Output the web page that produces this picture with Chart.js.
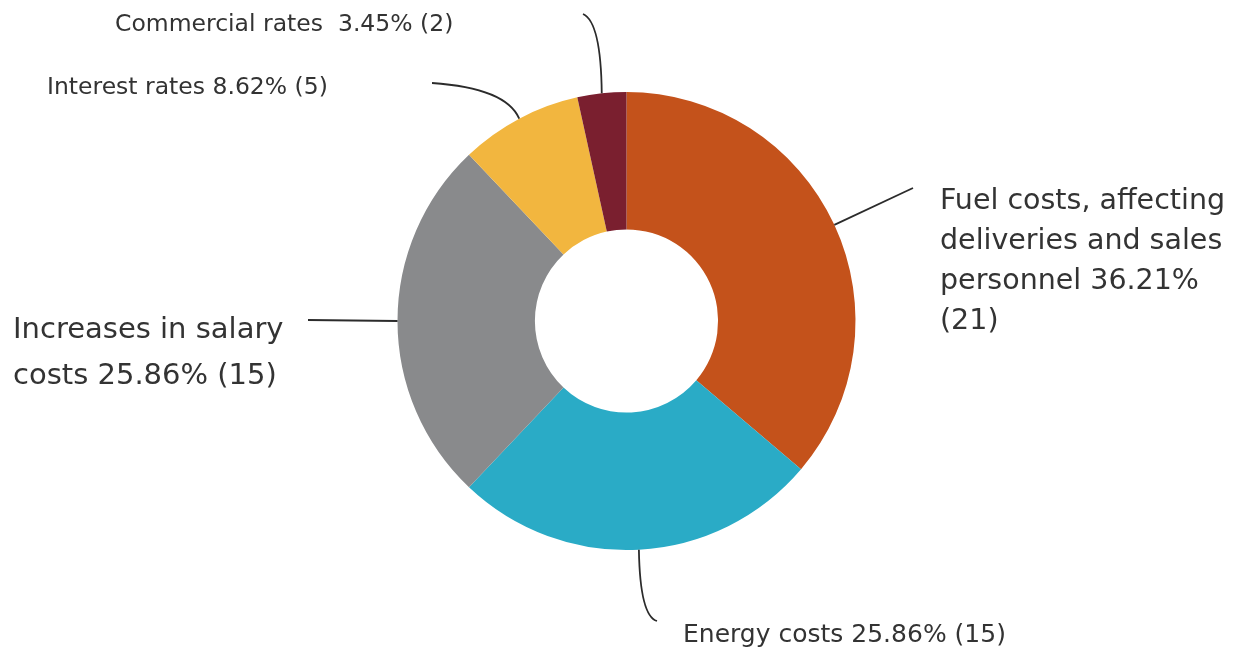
<!DOCTYPE html>
<html>
<head>
<meta charset="utf-8">
<script src="https://cdn.jsdelivr.net/npm/chart.js@4"></script>
<style>
  html, body { margin: 0; padding: 0; background: #fff; }
  #wrap { width: 1243px; height: 652px; }
</style>
</head>
<body>
<div id="wrap"><canvas id="chart1" width="1243" height="652"></canvas></div>
<script>
// slices, clockwise from 12 o'clock
const categories = [
    'Fuel costs, affecting deliveries and sales personnel',
    'Energy costs',
    'Increases in salary costs',
    'Interest rates',
    'Commercial rates'
];
const counts = [21, 15, 15, 5, 2];
const colors = ['#C4521B', '#2AABC6', '#898A8C', '#F2B63F', '#7A1F2F'];

// label text, one entry per line
const labelLines = [
    ['Fuel costs, affecting', 'deliveries and sales', 'personnel 36.21%', '(21)'],
    ['Energy costs 25.86% (15)'],
    ['Increases in salary', 'costs 25.86% (15)'],
    ['Interest rates 8.62% (5)'],
    ['Commercial rates  3.45% (2)']
];

// where each label sits and how its leader line runs
const labelLayout = [
    { x: 940, y: 202, lh: 40, size: 28.5, end: [913, 188] },
    { x: 683, y: 635, lh: 40, size: 25, end: [657, 621], ctrl: [640, 616] },
    { x: 13, y: 330, lh: 46, size: 29, end: [308, 320] },
    { x: 47, y: 88, lh: 40, size: 23.5, end: [432, 83], ctrl: [506, 88] },
    { x: 115, y: 25, lh: 40, size: 23.5, end: [583, 14], ctrl: [601, 22] }
];

const calloutPlugin = {
    id: 'callouts',
    afterDraw(chart) {
        const ctx = chart.ctx;
        const meta = chart.getDatasetMeta(0);
        ctx.save();
        ctx.fillStyle = '#333';
        ctx.strokeStyle = '#2b2b2b';
        ctx.lineWidth = 1.8;
        ctx.textBaseline = 'middle';
        ctx.textAlign = 'left';
        meta.data.forEach((arc, i) => {
            // leader starts on the outer edge, halfway along the slice
            const mid = (arc.startAngle + arc.endAngle) / 2;
            const ax = arc.x + Math.cos(mid) * arc.outerRadius;
            const ay = arc.y + Math.sin(mid) * arc.outerRadius;
            const lay = labelLayout[i];
            ctx.beginPath();
            ctx.moveTo(ax, ay);
            if (lay.ctrl) {
                ctx.quadraticCurveTo(lay.ctrl[0], lay.ctrl[1], lay.end[0], lay.end[1]);
            } else {
                ctx.lineTo(lay.end[0], lay.end[1]);
            }
            ctx.stroke();
            ctx.font = lay.size + 'px "DejaVu Sans"';
            labelLines[i].forEach((t, j) => {
                ctx.fillText(t, lay.x, lay.y + j * lay.lh);
            });
        });
        ctx.restore();
    }
};

new Chart('chart1', {
    type: 'doughnut',
    data: {
        labels: categories,
        datasets: [{
            data: counts,
            backgroundColor: colors,
            borderWidth: 0
        }]
    },
    options: {
        responsive: false,
        animation: false,
        cutout: '40%',
        layout: {
            padding: { top: 92, bottom: 102, left: 397, right: 387 }
        },
        plugins: {
            legend: { display: false },
            tooltip: { enabled: false }
        }
    },
    plugins: [calloutPlugin]
});
</script>
</body>
</html>
